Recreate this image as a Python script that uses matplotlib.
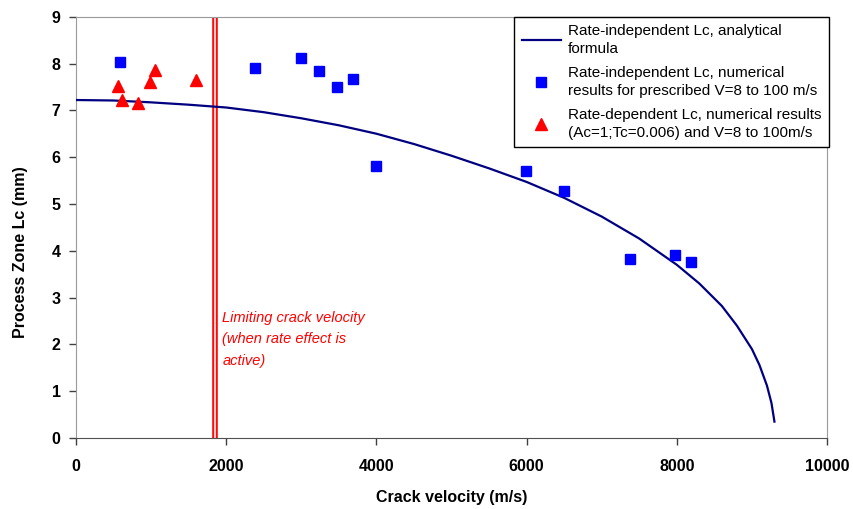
import matplotlib
matplotlib.use("Agg")
import matplotlib.pyplot as plt

plt.rcParams["font.family"] = ["Liberation Sans", "DejaVu Sans"]

# --- data ---
# analytical curve (rate-independent Lc)
curve_v = [0, 500, 1000, 1500, 2000, 2500, 3000, 3500, 4000, 4500, 5000,
           5500, 6000, 6500, 7000, 7500, 8000, 8300, 8600, 8800, 9000,
           9100, 9200, 9260, 9300]
curve_lc = [7.22, 7.21, 7.17, 7.12, 7.06, 6.96, 6.83, 6.68, 6.50, 6.28, 6.03,
            5.76, 5.47, 5.13, 4.73, 4.26, 3.70, 3.30, 2.82, 2.40, 1.90,
            1.56, 1.12, 0.75, 0.35]

# rate-independent numerical results
blue_v = [580, 2390, 2990, 3230, 3480, 3690, 3990, 5990, 6500, 7380, 7980, 8190]
blue_lc = [8.03, 7.91, 8.11, 7.83, 7.49, 7.66, 5.80, 5.70, 5.28, 3.82, 3.90, 3.76]

# rate-dependent numerical results
red_v = [560, 610, 820, 980, 1050, 1600]
red_lc = [7.52, 7.22, 7.15, 7.61, 7.87, 7.64]

limit_v = 1850

x_ticks = [0, 2000, 4000, 6000, 8000, 10000]
y_ticks = list(range(10))

fig = plt.figure(figsize=(8.54, 5.09), dpi=100)
ax = fig.add_axes([0.089, 0.1395, 0.8794, 0.8277])

# limiting velocity: double red line
ax.axvline(limit_v, color="red", linewidth=4, zorder=1)
ax.axvline(limit_v, color="#ffc8c8", linewidth=1.5, zorder=1)

ax.plot(curve_v, curve_lc, color="#000080", linewidth=1.6, zorder=3,
        label="Rate-independent Lc, analytical\nformula")
ax.plot(blue_v, blue_lc, linestyle="none", marker="s", markersize=7,
        color="#0000ff", zorder=4,
        label="Rate-independent Lc, numerical\nresults for prescribed V=8 to 100 m/s")
ax.plot(red_v, red_lc, linestyle="none", marker="^", markersize=8.5,
        color="#ff0000", zorder=4,
        label="Rate-dependent Lc, numerical results\n(Ac=1;Tc=0.006) and V=8 to 100m/s")

ax.text(1950, 2.72, "Limiting crack velocity\n(when rate effect is\nactive)",
        color="red", style="italic", fontsize=10.5, va="top", ha="left",
        linespacing=1.68)

ax.set_xlim(0, 10000)
ax.set_ylim(0, 9)
ax.set_xticks(x_ticks)
ax.set_yticks(y_ticks)
ax.tick_params(axis="both", direction="out", length=5, width=1,
               color="#404040", labelsize=11.5)
ax.tick_params(axis="x", pad=10)
ax.tick_params(axis="y", pad=6)
for lab in ax.get_xticklabels() + ax.get_yticklabels():
    lab.set_fontweight("bold")

for side in ["top", "right", "left"]:
    ax.spines[side].set_color("#9a9a9a")
ax.spines["bottom"].set_color("#505050")

ax.set_xlabel("Crack velocity (m/s)", fontsize=11.5, fontweight="bold", labelpad=12)
ax.set_ylabel("Process Zone Lc (mm)", fontsize=11.5, fontweight="bold")
ax.yaxis.set_label_coords(-0.064, 0.44)

leg = ax.legend(loc="upper right", bbox_to_anchor=(1.003, 1.0), borderaxespad=0,
                fontsize=11, fancybox=False, framealpha=1, edgecolor="black",
                handlelength=2.6, handletextpad=0.45, labelspacing=0.65,
                borderpad=0.5)
leg.get_frame().set_linewidth(1.0)
for t in leg.get_texts():
    t.set_linespacing(1.35)

fig.savefig("out.png", dpi=100)
